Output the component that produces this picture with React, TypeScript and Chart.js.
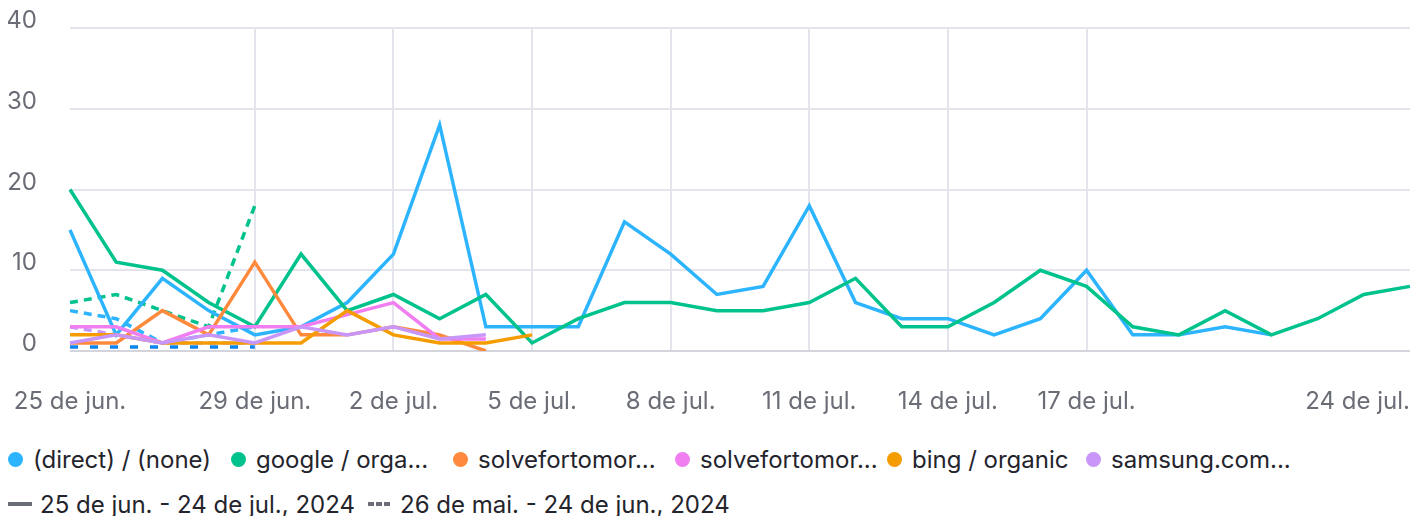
import React, { useEffect, useRef } from 'react';
import { Chart, registerables } from 'chart.js';

Chart.register(...registerables);

const days = [
  '25 de jun.', '26 de jun.', '27 de jun.', '28 de jun.', '29 de jun.', '30 de jun.',
  '1 de jul.', '2 de jul.', '3 de jul.', '4 de jul.', '5 de jul.', '6 de jul.',
  '7 de jul.', '8 de jul.', '9 de jul.', '10 de jul.', '11 de jul.', '12 de jul.',
  '13 de jul.', '14 de jul.', '15 de jul.', '16 de jul.', '17 de jul.', '18 de jul.',
  '19 de jul.', '20 de jul.', '21 de jul.', '22 de jul.', '23 de jul.', '24 de jul.',
];

const xTickLabels = ['25 de jun.', '29 de jun.', '2 de jul.', '5 de jul.', '8 de jul.', '11 de jul.', '14 de jul.', '17 de jul.', '24 de jul.'];
const yMin = 0;
const yMax = 40;
const yStep = 10;

const directCurrent = [15, 2, 9, 5, 2, 3, 6, 12, 28, 3, 3, 3, 16, 12, 7, 8, 18, 6, 4, 4, 2, 4, 10, 2, 2, 3, 2];
const googleCurrent = [20, 11, 10, 6, 3, 12, 5, 7, 4, 7, 1, 4, 6, 6, 5, 5, 6, 9, 3, 3, 6, 10, 8, 3, 2, 5, 2, 4, 7, 8];
const solve1Current = [1, 1, 5, 2, 11, 2, 2, 3, 2, 0];
const solve2Current = [3, 3, 1, 3, 3, 3, 4.5, 6, 1.5, 1.5];
const bingCurrent = [2, 2, 1, 1, 1, 1, 5, 2, 1, 1, 2];
const samsungCurrent = [1, 2, 1, 2, 1, 3, 2, 3, 1.5, 2];

const directPrevious = [5, 4, 1, 2, 3];
const googlePrevious = [6, 7, 5, 3, 18];
const samsungPrevious = [3, 2, 1, 1, 1];
const otherPrevious = [0.5, 0.5, 0.5, 0.5, 0.5];

const seriesNames = ['(direct) / (none)', 'google / orga...', 'solvefortomor...', 'solvefortomor...', 'bing / organic', 'samsung.com...'];
const seriesColors = ['#2db4ff', '#00c28c', '#ff8a3d', '#f07ef0', '#f59d00', '#c796f8'];
const periodNames = ['25 de jun. - 24 de jul., 2024', '26 de mai. - 24 de jun., 2024'];

const FONT = 'Inter, "Noto Sans", sans-serif';
const FONT_SIZE = 24;
const TICK_COLOR = '#6b6d76';
const GRID_COLOR = '#e4e4ec';
const TICK_PAD = 36;
const ICON_GRAY = '#6b6d76';

const lastLabelPlugin = {
  id: 'lastLabel',
  afterDraw(chart: any) {
    const xs = chart.scales.x;
    const ctx = chart.ctx;
    const last = xTickLabels[xTickLabels.length - 1];
    const idx = days.indexOf(last);
    ctx.save();
    ctx.font = `${FONT_SIZE}px ${FONT}`;
    ctx.fillStyle = TICK_COLOR;
    ctx.textAlign = 'right';
    ctx.textBaseline = 'middle';
    ctx.fillText(last, xs.getPixelForValue(idx), xs.top + TICK_PAD + (FONT_SIZE * 1.2) / 2);
    ctx.restore();
  },
};

export default function App() {
  const canvasRef = useRef<HTMLCanvasElement | null>(null);

  useEffect(() => {
    if (!canvasRef.current) return;
    const line = (label: string, data: number[], color: string, order: number, dashed = false, dash: number[] = [8, 6]) => ({
      label,
      data,
      borderColor: color,
      backgroundColor: color,
      borderWidth: 3.5,
      pointRadius: 0,
      tension: 0,
      fill: false,
      order,
      borderDash: dashed ? dash : [],
      borderCapStyle: 'butt' as const,
      borderJoinStyle: 'miter' as const,
    });
    const lastLabel = xTickLabels[xTickLabels.length - 1];
    const chart = new Chart(canvasRef.current, {
      type: 'line',
      data: {
        labels: days,
        datasets: [
          line(seriesNames[5], samsungCurrent, seriesColors[5], 0),
          line(seriesNames[4], bingCurrent, seriesColors[4], 1),
          line(seriesNames[3], solve2Current, seriesColors[3], 2),
          line(seriesNames[2], solve1Current, seriesColors[2], 3),
          line(seriesNames[1], googleCurrent, seriesColors[1], 4),
          line(seriesNames[0], directCurrent, seriesColors[0], 5),
          line('prev other', otherPrevious, '#0a84f0', 6, true, [8, 12]),
          line('prev samsung', samsungPrevious, seriesColors[5], 7, true),
          line('prev direct', directPrevious, seriesColors[0], 8, true),
          line('prev google', googlePrevious, seriesColors[1], 9, true),
        ],
      },
      options: {
        animation: false,
        responsive: true,
        maintainAspectRatio: false,
        layout: { padding: { top: 20, right: 7, bottom: 0, left: 0 } },
        plugins: { legend: { display: false }, tooltip: { enabled: false } },
        scales: {
          x: {
            type: 'category',
            offset: false,
            border: { display: false },
            afterFit: (scale: any) => {
              scale.paddingLeft = 0;
              scale.paddingRight = 0;
              scale.height = 67;
            },
            grid: {
              drawTicks: false,
              lineWidth: 2,
              color: (ctx: any) => {
                const lab = days[ctx.index];
                if (ctx.index === 0 || lab === lastLabel) return 'rgba(0,0,0,0)';
                return xTickLabels.includes(lab) ? GRID_COLOR : 'rgba(0,0,0,0)';
              },
            },
            ticks: {
              autoSkip: false,
              maxRotation: 0,
              minRotation: 0,
              padding: TICK_PAD,
              color: TICK_COLOR,
              font: { family: FONT, size: FONT_SIZE },
              callback: (_v: any, i: number) => {
                const lab = days[i];
                return xTickLabels.includes(lab) && lab !== lastLabel ? lab : '';
              },
            },
          },
          y: {
            min: yMin,
            max: yMax,
            afterFit: (scale: any) => {
              scale.width = 62;
              scale.paddingTop = 0;
              scale.paddingBottom = 0;
            },
            border: { display: false },
            grid: {
              drawTicks: false,
              lineWidth: 2,
              color: (ctx: any) => (ctx.tick && ctx.tick.value === 0 ? '#d4d4dc' : GRID_COLOR),
            },
            ticks: {
              stepSize: yStep,
              padding: 33,
              labelOffset: -7,
              color: TICK_COLOR,
              font: { family: FONT, size: FONT_SIZE },
            },
          },
        },
      },
      plugins: [lastLabelPlugin],
    });
    return () => chart.destroy();
  }, []);

  const itemWidths = [223, 222, 222, 212, 199, 200];
  const dashSeg = { width: 6, height: 4, background: ICON_GRAY, display: 'inline-block', marginRight: 2 } as const;

  return (
    <div style={{ fontFamily: FONT }}>
      <div style={{ position: 'relative', width: '100%', height: 410 }}>
        <canvas ref={canvasRef} />
      </div>
      <div style={{ display: 'flex', alignItems: 'center', marginTop: 29, height: 24 }}>
        {seriesNames.map((name, i) => (
          <div key={i} style={{ display: 'flex', alignItems: 'center', width: itemWidths[i], flex: 'none' }}>
            <span style={{ width: 15, height: 15, borderRadius: '50%', background: seriesColors[i], display: 'inline-block', marginRight: 10, flex: 'none' }} />
            <span style={{ fontSize: FONT_SIZE, color: '#24242c', whiteSpace: 'nowrap' }}>{name}</span>
          </div>
        ))}
      </div>
      <div style={{ display: 'flex', alignItems: 'center', marginTop: 21, height: 24 }}>
        <div style={{ display: 'flex', alignItems: 'center', width: 360, flex: 'none' }}>
          <span style={{ width: 24, height: 4, background: ICON_GRAY, display: 'inline-block', marginRight: 8 }} />
          <span style={{ fontSize: FONT_SIZE, color: '#24242c', whiteSpace: 'nowrap' }}>{periodNames[0]}</span>
        </div>
        <div style={{ display: 'flex', alignItems: 'center' }}>
          <span style={{ display: 'inline-flex', alignItems: 'center', width: 24, marginRight: 8 }}>
            <span style={dashSeg} />
            <span style={dashSeg} />
            <span style={{ ...dashSeg, marginRight: 0 }} />
          </span>
          <span style={{ fontSize: FONT_SIZE, color: '#24242c', whiteSpace: 'nowrap' }}>{periodNames[1]}</span>
        </div>
      </div>
    </div>
  );
}
